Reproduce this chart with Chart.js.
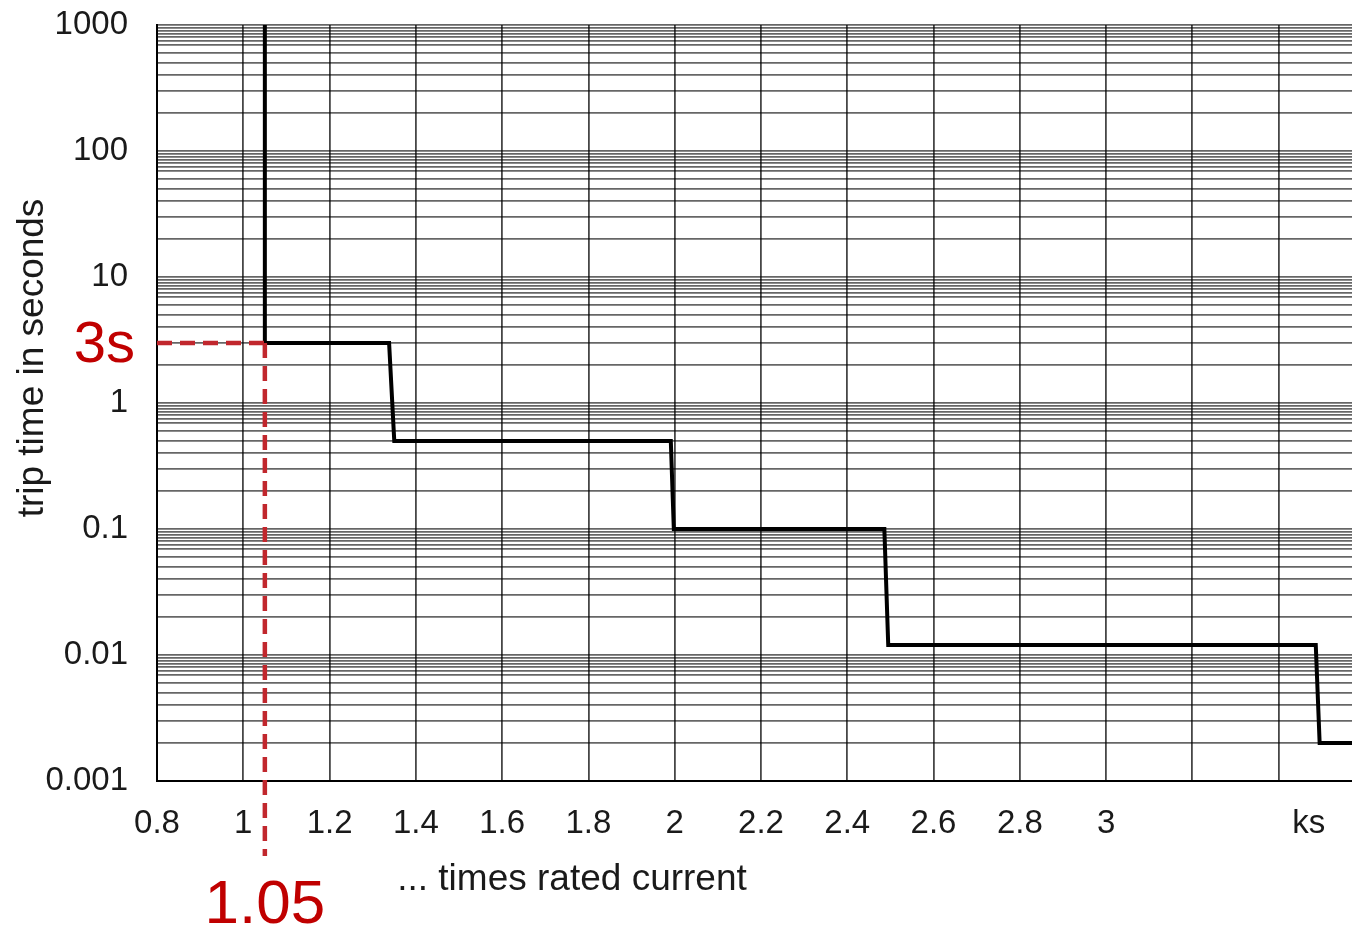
<!DOCTYPE html>
<html>
<head>
<meta charset="utf-8">
<script src="https://cdn.jsdelivr.net/npm/chart.js@4.4.1/dist/chart.umd.min.js"></script>
<style>
  html, body { margin: 0; padding: 0; background: #fff; }
  #wrap { width: 1352px; height: 934px; }
</style>
</head>
<body>
<div id="wrap"><canvas id="trip"></canvas></div>
<script>
// trip curve (x = times rated current, y = trip time in s)
const stepX = [1.05, 1.05, 1.338, 1.35, 1.991, 1.998, 2.486, 2.495, 3.486, 3.495, 3.57];
const stepY = [1000, 3, 3, 0.5, 0.5, 0.1, 0.1, 0.012, 0.012, 0.002, 0.002];

const xTicks = [0.8, 1, 1.2, 1.4, 1.6, 1.8, 2, 2.2, 2.4, 2.6, 2.8, 3, 3.2, 3.4, 3.47];
const xLabels = ['0.8', '1', '1.2', '1.4', '1.6', '1.8', '2', '2.2', '2.4', '2.6', '2.8', '3', '', '', 'ks'];

const yDecades = [0.001, 0.01, 0.1, 1, 10, 100, 1000];
const yDecadeLabels = ['0.001', '0.01', '0.1', '1', '10', '100', '1000'];
const yMinor = [2, 3, 4, 5, 6, 7, 7.5, 8, 8.5, 9, 9.5];

const markX = 1.05;
const markY = 3;
const markLabelX = '1.05';
const markLabelY = '3s';

const xTitle = '... times rated current';
const yTitle = 'trip time in seconds';

const RED = '#c1272d';
const FONT = '"Liberation Sans", Arial, sans-serif';

const markers = {
  id: 'markers',
  afterDatasetsDraw(chart) {
    const { ctx, chartArea, scales } = chart;
    const px = scales.x.getPixelForValue(markX);
    const py = scales.y.getPixelForValue(markY);
    ctx.save();
    ctx.strokeStyle = RED;
    ctx.lineWidth = 4.5;
    ctx.setLineDash([15, 8]);
    ctx.beginPath();
    ctx.moveTo(chartArea.left, py);
    ctx.lineTo(px, py);
    ctx.moveTo(px, py);
    ctx.lineTo(px, chartArea.bottom + 75);
    ctx.stroke();
    ctx.setLineDash([]);

    ctx.fillStyle = '#c00000';
    ctx.font = '58px ' + FONT;
    ctx.textAlign = 'right';
    ctx.textBaseline = 'middle';
    ctx.fillText(markLabelY, chartArea.left - 22, py + 3);
    ctx.font = '62px ' + FONT;
    ctx.textAlign = 'center';
    ctx.fillText(markLabelX, px, chartArea.bottom + 125);

    ctx.fillStyle = '#1a1a1a';
    ctx.font = '37px ' + FONT;
    ctx.fillText(xTitle, 572, 880);
    ctx.translate(33, 358);
    ctx.rotate(-Math.PI / 2);
    ctx.fillText(yTitle, 0, 0);
    ctx.restore();
  }
};

new Chart(document.getElementById('trip'), {
  type: 'line',
  data: {
    datasets: [{
      data: stepX.map((x, i) => ({ x: x, y: stepY[i] })),
      borderColor: '#000',
      borderWidth: 4,
      pointRadius: 0,
      fill: false,
      tension: 0,
    }]
  },
  options: {
    responsive: true,
    maintainAspectRatio: false,
    animation: false,
    layout: { padding: { top: 25, left: 0, right: 0, bottom: 0 } },
    plugins: {
      legend: { display: false },
      tooltip: { enabled: false },
    },
    scales: {
      x: {
        type: 'linear',
        min: 0.8,
        max: 3.57,
        afterBuildTicks: (s) => { s.ticks = xTicks.map(v => ({ value: v })); },
        afterFit: (s) => { s.height = 153; s.paddingLeft = 0; s.paddingRight = 0; },
        ticks: {
          autoSkip: false,
          maxRotation: 0,
          padding: 23,
          color: '#1a1a1a',
          font: { family: FONT, size: 33 },
          callback: (v, i) => xLabels[i],
        },
        grid: {
          drawTicks: false,
          lineWidth: 1.8,
          color: (c) => (c.tick && c.tick.value === 3.47) ? 'rgba(0,0,0,0)' : 'rgba(0,0,0,0.72)',
        },
        border: { color: '#000', width: 2 },
      },
      y: {
        type: 'logarithmic',
        min: 0.001,
        max: 1000,
        afterBuildTicks: (s) => {
          const t = [];
          yDecades.forEach((d, i) => {
            t.push({ value: d, major: true });
            if (i < yDecades.length - 1) yMinor.forEach(k => t.push({ value: +(d * k).toPrecision(4) }));
          });
          s.ticks = t;
        },
        afterFit: (s) => { s.width = 157; s.paddingTop = 0; s.paddingBottom = 0; },
        ticks: {
          autoSkip: false,
          padding: 29,
          color: '#1a1a1a',
          font: { family: FONT, size: 33 },
          callback: (v) => {
            const i = yDecades.findIndex(d => Math.abs(d - v) < d * 1e-6);
            return i >= 0 ? yDecadeLabels[i] : '';
          },
        },
        grid: {
          drawTicks: false,
          lineWidth: 1.8,
          color: 'rgba(0,0,0,0.6)',
        },
        border: { color: '#000', width: 2 },
      }
    }
  },
  plugins: [markers]
});
</script>
</body>
</html>
